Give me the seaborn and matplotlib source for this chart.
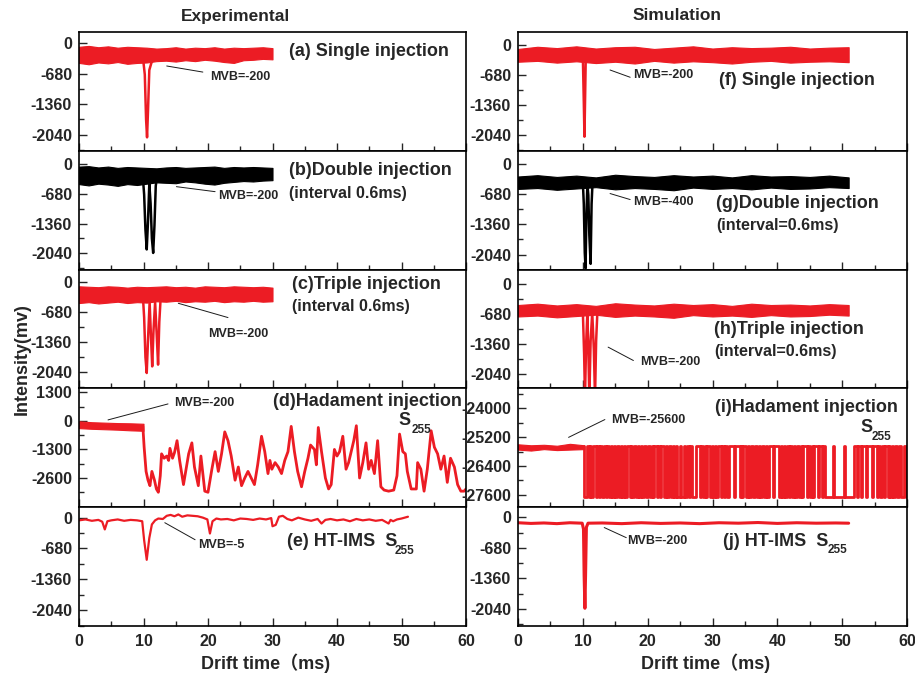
### Drift-time spectra: experimental vs simulation (10 stacked panels)

import seaborn as sns
import matplotlib.pyplot as plt
import numpy as np
import pandas as pd
from matplotlib.ticker import FixedLocator, MultipleLocator

sns.set_theme(style="ticks", rc={
    "xtick.direction": "in", "ytick.direction": "in",
    "xtick.major.size": 6, "ytick.major.size": 6,
    "xtick.minor.size": 3.5, "ytick.minor.size": 3.5,
    "xtick.major.width": 1, "ytick.major.width": 1,
    "xtick.minor.width": 1, "ytick.minor.width": 1,
    "axes.linewidth": 1.2, "axes.edgecolor": "black",
})
plt.rcParams['font.family'] = ['Liberation Sans', 'Noto Sans CJK SC']
plt.rcParams['font.weight'] = 'bold'
plt.rcParams['axes.unicode_minus'] = False

RED = '#ec1c24'
BLACK = '#000000'

# ---------------- data ----------------
band_t_left = [0, 1.5, 3, 4.5, 6, 7.5, 9, 10.5, 12, 13.5, 15, 16.5, 18, 19.5, 21, 22.5, 24, 25.5, 27, 28.5, 30]
band_t_right = [0, 3, 6, 9, 12, 15, 18, 21, 24, 27, 30, 33, 36, 39, 42, 45, 48, 51]

# (a) single injection, experimental
a_hi = [-80, -60, -90, -70, -100, -80, -90, -100, -120, -110, -90, -120, -100, -110, -90, -120, -100, -110, -100, -90, -110]
a_lo = [-440, -470, -430, -450, -420, -460, -440, -430, -400, -390, -410, -380, -400, -370, -390, -420, -440, -380, -370, -350, -360]
a_pk_t = [9.9, 10.2, 10.4, 10.55, 10.7, 10.9, 11.2, 11.6]
a_pk_v = [-300, -700, -1700, -2100, -1500, -600, -450, -300]

# (b) double injection, experimental
b_hi = [-60, -50, -80, -60, -90, -70, -80, -90, -100, -80, -70, -90, -80, -70, -60, -90, -70, -80, -70, -80, -90]
b_lo = [-460, -490, -450, -470, -500, -460, -480, -450, -420, -430, -440, -400, -420, -450, -470, -430, -410, -390, -400, -380, -370]
b_pk_t = [9.9, 10.1, 10.3, 10.5, 10.7, 10.9, 11.1, 11.3, 11.5, 11.7, 11.9, 12.1]
b_pk_v = [-300, -700, -1500, -1950, -1300, -450, -900, -1700, -2030, -1400, -500, -300]

# (c) triple injection, experimental
c_hi = [-90, -100, -110, -90, -100, -120, -100, -110, -100, -90, -110, -100, -120, -90, -100, -110, -90, -100, -110, -100, -120]
c_lo = [-470, -450, -480, -460, -440, -470, -450, -460, -430, -440, -420, -450, -430, -440, -420, -450, -430, -440, -420, -440, -430]
c_pk_t = [9.9, 10.1, 10.3, 10.5, 10.7, 10.95, 11.15, 11.35, 11.55, 11.8, 12.05, 12.26, 12.45, 12.7]
c_pk_v = [-300, -800, -1700, -2060, -1300, -450, -1200, -1910, -1100, -450, -1200, -1870, -900, -250]

# (d) Hadamard injection, experimental
d_base_t = [0, 2, 4, 6, 8, 10]
d_base_hi = [-20, -60, -80, -100, -110, -130]
d_base_lo = [-330, -360, -380, -400, -430, -450]
d_t = [9.9, 10.1, 10.4, 10.7, 11.0, 11.3, 11.7, 12.0, 12.3, 12.6, 12.8, 13.2, 13.6, 13.9, 14.1, 14.5, 14.8,
       15.2, 15.6, 16.2, 16.6, 17.0, 17.5, 17.9, 18.5, 18.9, 19.5, 20.0, 20.6, 21.1, 21.6, 22.1, 22.6, 23.1,
       23.6, 24.2, 24.7, 25.2, 25.7, 26.2, 26.7, 27.2, 27.7, 28.3, 28.8, 29.3, 29.6, 29.9, 30.4, 30.9, 31.4,
       31.9, 32.4, 32.9, 33.4, 33.9, 34.5, 35.0, 35.5, 35.9, 36.5, 36.8, 37.1, 37.6, 38.2, 38.7, 39.1, 39.6,
       40.0, 40.4, 40.9, 41.4, 41.8, 42.2, 42.6, 43.0, 43.5, 44.0, 44.5, 44.9, 45.3, 45.8, 46.3, 46.8, 47.3,
       48.0, 48.8, 49.3, 49.7, 50.2, 50.6, 50.9, 51.5, 52.3, 52.5, 53.0, 53.5, 54.0, 54.6, 55.1, 55.6, 56.1,
       56.6, 57.1, 57.6, 58.2, 58.7, 59.2, 59.7, 60.0]
d_v = [-250, -1200, -2300, -2700, -2950, -2300, -2700, -3100, -3250, -2500, -1500, -1700, -1600, -1800, -1250, -1700, -1450,
       -900, -1800, -2900, -2200, -1500, -1000, -2100, -2950, -1600, -3200, -3250, -2200, -1400, -2300, -1500, -500, -900,
       -1600, -2700, -2100, -2950, -2600, -2300, -2600, -2900, -2000, -700, -1400, -2400, -1800, -2200, -1900, -2100, -2400,
       -1800, -1400, -250, -1400, -2300, -3000, -2300, -1700, -1100, -1300, -2000, -300, -1400, -2600, -3100, -2900, -1300,
       -1600, -1400, -700, -2200, -1900, -1400, -900, -220, -2600, -1900, -1000, -2200, -1800, -2400, -900, -3000, -3150,
       -3200, -3150, -2500, -600, -1400, -1500, -2300, -3100, -3100, -1900, -2200, -3200, -2200, -450, -1200, -1500, -2200,
       -1600, -2800, -1700, -2100, -2900, -3200, -3200, -3100]

# (e) HT-IMS, experimental
e_t = [0, 1, 2, 3, 3.6, 4.0, 4.4, 5, 6, 7, 8, 9, 9.8, 10.1, 10.5, 10.9, 11.3, 11.8, 12.3, 13, 13.6, 14.2, 14.8,
       15.4, 16, 16.8, 17.6, 18.4, 19.2, 19.9, 20.3, 20.7, 21.3, 22, 23, 24, 25, 26, 27, 28, 29, 29.8, 30.0, 30.5,
       31.0, 31.6, 32.3, 33, 34, 35, 36, 37, 37.6, 38.2, 39, 40, 41, 42, 43, 44, 45, 46, 47, 48, 48.3, 48.7, 49.3, 50, 51]
e_v = [-60, -40, -70, -50, -90, -260, -80, -60, -40, -70, -50, -60, -80, -500, -930, -450, -150, -60, -20, -30, 40, 60, 30,
       70, 20, 50, 40, 30, 0, -40, -350, -80, -20, -40, -30, -60, -20, -30, -50, -20, -40, -10, -190, -160,
       20, 40, -30, -60, 0, -40, -70, -30, -130, -50, -30, -60, -40, -80, -30, -60, -40, -70, -50, -130, -50, -80, -40, -20, 20]

# (f) single injection, simulation
f_hi = [-90, -40, -70, -30, -80, -50, -40, -90, -60, -30, -80, -50, -70, -60, -40, -80, -60, -50]
f_lo = [-380, -360, -400, -370, -410, -380, -420, -360, -400, -370, -390, -420, -380, -360, -400, -380, -370, -390]
f_pk_t = [10.0, 10.15, 10.25, 10.35, 10.45, 10.6]
f_pk_v = [-250, -1300, -2080, -1200, -300, -250]

# (g) double injection, simulation
g_hi = [-280, -250, -290, -260, -300, -240, -270, -290, -250, -280, -260, -300, -250, -280, -270, -290, -260, -300]
g_lo = [-560, -540, -580, -550, -520, -570, -540, -560, -590, -530, -560, -540, -570, -530, -560, -550, -520, -540]
g_pk_t = [10.0, 10.15, 10.3, 10.42, 10.55, 10.7, 10.85, 11.0, 11.2, 11.35, 11.5]
g_pk_v = [-400, -900, -2000, -2350, -1200, -450, -700, -1600, -2250, -900, -400]

# (h) triple injection, simulation
h_hi = [-480, -450, -490, -460, -500, -440, -470, -490, -450, -480, -460, -500, -450, -480, -470, -490, -460, -480]
h_lo = [-740, -720, -760, -730, -700, -750, -720, -740, -770, -710, -740, -720, -750, -710, -740, -730, -700, -720]
h_pk_t = [10.0, 10.2, 10.33, 10.5, 10.7, 10.85, 11.0, 11.2, 11.45, 11.7, 11.88, 12.05, 12.25]
h_pk_v = [-620, -1600, -2600, -1400, -650, -1500, -2600, -1300, -650, -1500, -2600, -1300, -620]

# (i) Hadamard injection, simulation (two-level signal, pulse edges in ms)
i_base_t = [0, 2, 4, 6, 8, 10.2]
i_base_hi = [-25500, -25540, -25520, -25560, -25480, -25540]
i_base_lo = [-25720, -25760, -25700, -25740, -25720, -25700]
i_high, i_low = -25560, -27680
i_on = [10.6, 11.1, 11.6, 12.2, 12.7, 13.2, 13.8, 14.3, 14.8, 15.2, 15.9, 16.3, 16.8, 17.4, 17.9, 18.5, 18.9,
        19.4, 20.0, 20.6, 21.0, 21.6, 22.1, 22.8, 23.3, 23.9, 24.4, 25.0, 25.6, 26.1, 26.6, 27.4, 28.2, 28.8,
        29.2, 29.9, 30.4, 30.9, 31.5, 32.0, 32.5, 33.5, 34.4, 34.7, 35.4, 36.0, 36.5, 37.2, 37.7, 38.2, 38.7,
        39.5, 40.5, 41.0, 41.5, 42.0, 42.5, 43.1, 43.6, 44.0, 44.7, 45.3, 45.7, 46.4, 47.1, 48.6, 50.3, 51.8,
        52.5, 53.1, 53.9, 54.8, 55.6, 56.2, 56.6, 57.2, 57.7, 58.2, 58.8, 59.6]
i_off = [10.9, 11.3, 12.0, 12.5, 12.9, 13.6, 14.1, 14.5, 15.0, 15.6, 16.1, 16.5, 17.2, 17.6, 18.2, 18.7, 19.1,
         19.8, 20.3, 20.8, 21.4, 21.9, 22.5, 23.0, 23.6, 24.1, 24.6, 25.2, 25.8, 26.3, 26.8, 28.0, 28.5, 29.0,
         29.6, 30.1, 30.6, 31.3, 31.7, 32.2, 33.3, 34.2, 34.5, 35.2, 35.7, 36.3, 36.9, 37.4, 37.9, 38.4, 39.3,
         40.2, 40.7, 41.2, 41.8, 42.2, 42.8, 43.3, 43.8, 44.5, 45.0, 45.5, 46.2, 46.9, 47.3, 48.7, 50.4, 52.3,
         52.9, 53.6, 54.6, 55.4, 55.9, 56.4, 57.0, 57.4, 57.9, 58.5, 59.0, 59.8]

# (j) HT-IMS, simulation
j_t = [0, 2, 4, 6, 8, 9.9, 10.1, 10.2, 10.32, 10.42, 10.55, 10.8, 13, 16, 19, 22, 25, 28, 31, 34, 37, 40, 43, 46, 49, 51]
j_v = [-120, -135, -125, -140, -120, -130, -260, -1300, -2030, -1300, -220, -130, -125, -140, -120, -135, -125, -140,
       -120, -130, -115, -135, -120, -130, -125, -130]

ticks_std = [0, -680, -1360, -2040]
ticks_d = [1300, 0, -1300, -2600]
ticks_i = [-24000, -25200, -26400, -27600]

# ---------------- layout ----------------
W, H = 915, 676
fig = plt.figure(figsize=(W / 100, H / 100), dpi=100)

def make_ax(col, row):
    x0, w = (79, 387) if col == 0 else (518, 389)
    top, rh = 32, 118.8
    y_top = top + row * rh
    return fig.add_axes([x0 / W, 1 - (y_top + rh) / H, w / W, rh / H])

def style(ax, ylim, major, minor, bottom):
    ax.set_xlim(0, 60)
    ax.set_ylim(*ylim)
    ax.xaxis.set_major_locator(MultipleLocator(10))
    ax.xaxis.set_minor_locator(MultipleLocator(5))
    ax.yaxis.set_major_locator(FixedLocator(major))
    ax.yaxis.set_minor_locator(MultipleLocator(minor))
    ax.tick_params(axis='both', which='both', top=False, right=False, labelsize=11.5)
    ax.tick_params(axis='y', pad=5)
    ax.tick_params(axis='x', pad=6, labelbottom=bottom)
    ax.set_xlabel('')
    ax.set_ylabel('')
    for sp in ax.spines.values():
        sp.set_visible(True)
        sp.set_linewidth(1.2)

def band(ax, t, lo, hi, color):
    ax.fill_between(t, lo, hi, color=color, linewidth=0.8, edgecolor=color)

def trace(ax, t, v, color, lw=1.8):
    sns.lineplot(x=t, y=v, ax=ax, color=color, linewidth=lw, estimator=None, sort=False, legend=False)

def mvb(ax, p0, p1, txt_pos, s):
    ax.plot([p0[0], p1[0]], [p0[1], p1[1]], color='k', lw=0.7)
    ax.text(txt_pos[0], txt_pos[1], s, fontsize=9, fontweight='bold', va='center', ha='left')

def label(ax, x, y, s, size=13):
    ax.text(x, y, s, fontsize=size, fontweight='bold', va='center', ha='left')

# (a)
ax = make_ax(0, 0)
band(ax, band_t_left, a_lo, a_hi, RED)
trace(ax, a_pk_t, a_pk_v, RED)
mvb(ax, (13.6, -508), (19.2, -644), (20.3, -764), 'MVB=-200')
label(ax, 32.5, -190, '(a) Single injection')
style(ax, (-2400, 250), ticks_std, 340, False)

# (b)
ax = make_ax(0, 1)
band(ax, band_t_left, b_lo, b_hi, BLACK)
trace(ax, b_pk_t, b_pk_v, BLACK)
mvb(ax, (15.1, -518), (21.1, -632), (21.6, -723), 'MVB=-200')
label(ax, 32.5, -160, '(b)Double injection')
label(ax, 32.5, -671, '(interval 0.6ms)', 11.5)
style(ax, (-2410, 300), ticks_std, 340, False)

# (c)
ax = make_ax(0, 2)
band(ax, band_t_left, c_lo, c_hi, RED)
trace(ax, c_pk_t, c_pk_v, RED)
mvb(ax, (15.4, -476), (23.1, -800), (20.0, -1179), 'MVB=-200')
label(ax, 33.0, -59, '(c)Triple injection')
label(ax, 33.0, -551, '(interval 0.6ms)', 11.5)
style(ax, (-2410, 290), ticks_std, 340, False)

# (d)
ax = make_ax(0, 3)
band(ax, d_base_t, d_base_lo, d_base_hi, RED)
trace(ax, d_t, d_v, RED, 2.0)
mvb(ax, (4.5, 45), (13.8, 773), (14.7, 818), 'MVB=-200')
label(ax, 30.1, 894, '(d)Hadament injection')
label(ax, 49.5, 30, 'S')
label(ax, 51.5, -416, '255', 8.5)
style(ax, (-3930, 1480), ticks_d, 650, False)

# (e)
ax = make_ax(0, 4)
trace(ax, e_t, e_v, RED, 1.6)
mvb(ax, (13.3, -112), (18.0, -487), (18.5, -599), 'MVB=-5')
label(ax, 32.2, -525, '(e) HT-IMS  S')
label(ax, 49.0, -727, '255', 8.5)
style(ax, (-2390, 230), ticks_std, 340, True)

# (f)
ax = make_ax(1, 0)
band(ax, band_t_right, f_lo, f_hi, RED)
trace(ax, f_pk_t, f_pk_v, RED)
mvb(ax, (14.2, -567), (17.3, -732), (17.7, -680), 'MVB=-200')
label(ax, 31.0, -816, '(f) Single injection')
style(ax, (-2400, 295), ticks_std, 340, False)

# (g)
ax = make_ax(1, 1)
band(ax, band_t_right, g_lo, g_hi, BLACK)
trace(ax, g_pk_t, g_pk_v, BLACK)
mvb(ax, (14.2, -664), (17.3, -800), (17.7, -855), 'MVB=-400')
label(ax, 30.6, -893, '(g)Double injection')
label(ax, 30.6, -1390, '(interval=0.6ms)', 11.5)
style(ax, (-2380, 300), ticks_std, 340, False)

# (h)
ax = make_ax(1, 2)
band(ax, band_t_right, h_lo, h_hi, RED)
trace(ax, h_pk_t, h_pk_v, RED)
mvb(ax, (13.9, -1436), (17.8, -1740), (18.8, -1772), 'MVB=-200')
label(ax, 30.2, -1046, '(h)Triple injection')
label(ax, 30.2, -1527, '(interval=0.6ms)', 11.5)
style(ax, (-2373, 324), ticks_std, 340, False)

# (i)
ax = make_ax(1, 3)
band(ax, i_base_t, i_base_lo, i_base_hi, RED)
i_x, i_y = [10.2, 10.2], [i_high, i_low]
for on, off in zip(i_on, i_off):
    i_x += [on, on, off, off]
    i_y += [i_low, i_high, i_high, i_low]
i_x.append(60)
i_y.append(i_low)
trace(ax, i_x, i_y, RED, 2.0)
mvb(ax, (7.8, -25212), (13.4, -24473), (14.3, -24473), 'MVB=-25600')
label(ax, 30.4, -23960, '(i)Hadament injection')
label(ax, 52.8, -24808, 'S')
label(ax, 54.5, -25212, '255', 8.5)
style(ax, (-28110, -23180), ticks_i, 600, False)

# (j)
ax = make_ax(1, 4)
trace(ax, j_t, j_v, RED, 2.2)
mvb(ax, (13.3, -227), (16.7, -453), (16.9, -529), 'MVB=-200')
label(ax, 31.6, -529, '(j) HT-IMS  S')
label(ax, 47.8, -718, '255', 8.5)
style(ax, (-2425, 227), ticks_std, 340, True)

# titles and axis labels
fig.text(236 / W, 1 - 16 / H, 'Experimental', ha='center', va='center', fontsize=12.5, fontweight='bold')
fig.text(677 / W, 1 - 16 / H, 'Simulation', ha='center', va='center', fontsize=12.5, fontweight='bold')
fig.text(266 / W, 1 - 663 / H, 'Drift time（ms)', ha='center', va='center', fontsize=13, fontweight='bold')
fig.text(706 / W, 1 - 663 / H, 'Drift time（ms)', ha='center', va='center', fontsize=13, fontweight='bold')
fig.text(22 / W, 1 - 359 / H, 'Intensity(mv)', ha='center', va='center', rotation=90, fontsize=13, fontweight='bold')

# bold tick labels everywhere
fig.canvas.draw()
for a in fig.axes:
    for lab in a.get_xticklabels() + a.get_yticklabels():
        lab.set_fontweight('bold')

fig.savefig('out.png', dpi=100)
